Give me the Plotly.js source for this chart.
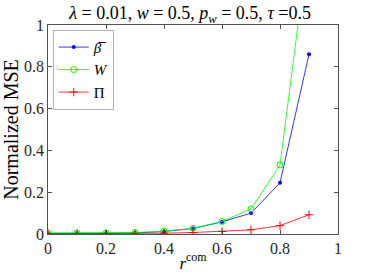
<!DOCTYPE html>
<html><head><meta charset="utf-8">
<script src="https://cdn.plot.ly/plotly-3.0.1.min.js"></script>
<style>html,body{margin:0;padding:0;background:#fff}</style>
</head><body><div id="chart" style="width:374px;height:280px"></div>
<script>
const rcom = [0, 0.1, 0.2, 0.3, 0.4, 0.5, 0.6, 0.7, 0.8, 0.9];
const betaBar = [0.003, 0.003, 0.003, 0.005, 0.012, 0.026, 0.058, 0.100, 0.245, 0.86];
const wVals = [0.005, 0.005, 0.005, 0.007, 0.014, 0.027, 0.060, 0.120, 0.330, 1.41];
const piVals = [0.001, 0.001, 0.001, 0.002, 0.004, 0.007, 0.012, 0.020, 0.040, 0.092];
const xTicks = [0, 0.2, 0.4, 0.6, 0.8, 1];
const yTicks = [0, 0.2, 0.4, 0.6, 0.8, 1];
const serif = 'Liberation Serif';
const traces = [
  {x: rcom, y: betaBar, name: '<i>β\u0305</i>', mode: 'lines+markers', line: {color: '#0000ff', width: 0.8}, marker: {symbol: 'circle', size: 4, color: '#0000ff'}},
  {x: rcom, y: wVals, name: '<i>W</i>', mode: 'lines+markers', line: {color: '#00ff00', width: 0.8}, marker: {symbol: 'circle-open', size: 6, color: '#00ff00', line: {width: 1}}},
  {x: rcom, y: piVals, name: 'Π', mode: 'lines+markers', line: {color: '#ff0000', width: 0.8}, marker: {symbol: 'cross-thin-open', size: 6, color: '#ff0000', line: {width: 1, color: '#ff0000'}}}
];
const axBase = {
  showgrid: false, zeroline: false, showline: true, mirror: 'ticks', linecolor: '#262626', linewidth: 0.8,
  ticks: 'inside', ticklen: 4, tickcolor: '#262626', tickwidth: 0.8,
  tickfont: {family: serif, size: 16, color: '#262626'}
};
const layout = {
  width: 374, height: 280,
  margin: {l: 48, r: 36, t: 25, b: 46},
  paper_bgcolor: '#fff', plot_bgcolor: '#fff',
  font: {family: serif},
  title: {text: '<i>λ</i> = 0.01, <i>w</i> = 0.5, <i>p<sub>w</sub></i> = 0.5, <i>τ</i> =0.5', font: {family: serif, size: 18, color: '#000'}, xref: 'paper', x: 0.49, xanchor: 'center', y: 0.955, yanchor: 'middle'},
  xaxis: Object.assign({}, axBase, {range: [0, 1], tickvals: xTicks, ticktext: xTicks.map(String),
    title: {text: '<i>r</i><sup>com</sup>', font: {family: serif, size: 17, color: '#000'}, standoff: 0}}),
  yaxis: Object.assign({}, axBase, {range: [0, 1], tickvals: yTicks, ticktext: yTicks.map(String),
    title: {text: 'Normalized MSE', font: {family: serif, size: 20, color: '#000'}, standoff: 4}}),
  showlegend: true,
  legend: {x: 0.017, y: 0.976, xanchor: 'left', yanchor: 'top', bgcolor: '#fff', bordercolor: '#a0a0a0', borderwidth: 0.8,
    font: {family: serif, size: 15, color: '#000'}, tracegroupgap: 0, itemwidth: 30}
};
Plotly.newPlot('chart', traces, layout, {displayModeBar: false, staticPlot: true});
</script></body></html>
